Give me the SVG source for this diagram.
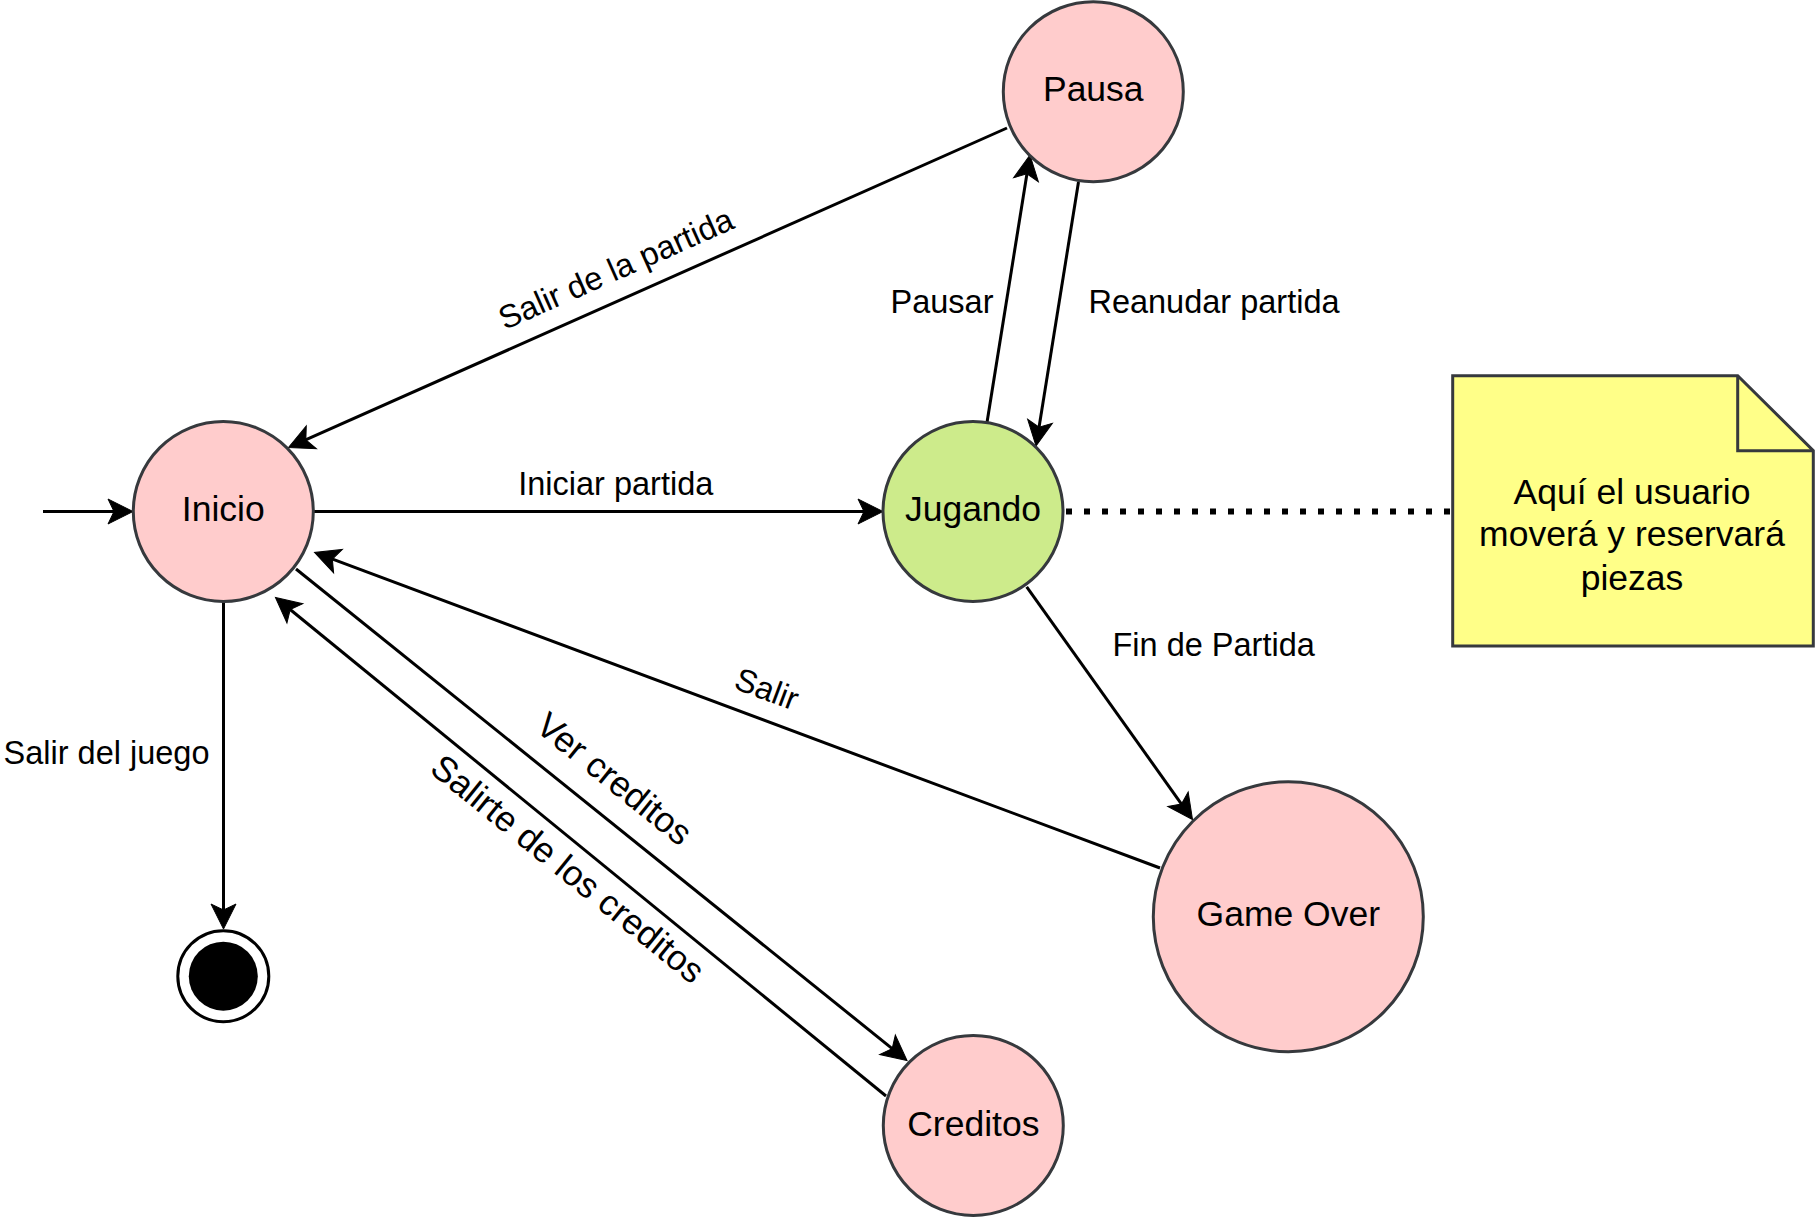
<svg xmlns="http://www.w3.org/2000/svg" width="1815" height="1218" viewBox="0 0 1815 1218">
<style>
.st{fill:#ffcccc;stroke:#36393d;stroke-width:3}
.nt{font-family:"Liberation Sans",Arial,sans-serif;font-size:35.5px;fill:#000;text-anchor:middle}
.et{font-family:"Liberation Sans",Arial,sans-serif;font-size:32.5px;fill:#000;text-anchor:middle}
.el{font-family:"Liberation Sans",Arial,sans-serif;font-size:35.5px;fill:#000;text-anchor:middle}
.ed{fill:none;stroke:#000;stroke-width:3;marker-end:url(#arr)}
</style>
<defs>
<marker id="arr" markerUnits="userSpaceOnUse" viewBox="-27 -15 30 30" markerWidth="30" markerHeight="30" refX="-15" refY="0" orient="auto" overflow="visible">
<path d="M0,0 L-25,-12.5 L-19,0 L-25,12.5 Z" fill="#000" stroke="#000" stroke-width="1"/>
</marker>
</defs>
<rect width="1815" height="1218" fill="#fff"/>
<g id="connectors">
<path class="ed" d="M43,511.5 L118,511.5"/>
<path class="ed" d="M313.5,511.5 L868,511.5"/>
<path class="ed" d="M987,422.5 L1027.6,169.8"/>
<path class="ed" d="M1078.5,182 L1038.4,431.2"/>
<path class="ed" d="M1007,128 L302.2,441.4"/>
<path class="ed" d="M1026.7,586.8 L1183.8,807.3"/>
<path class="ed" d="M1160,868 L328.6,557.7"/>
<path class="ed" d="M296,569 L895.3,1051.1"/>
<path class="ed" d="M886,1096 L287.1,607"/>
<path class="ed" d="M223.5,601.5 L223.5,914"/>
<path d="M1066,511.5 L1452,511.5" fill="none" stroke="#000" stroke-width="6" stroke-dasharray="6 12"/>
<text class="et" x="615.8" y="495">Iniciar partida</text>
<text class="et" x="942" y="313">Pausar</text>
<text class="et" x="1214" y="313">Reanudar partida</text>
<text class="et" x="1213.7" y="656">Fin de Partida</text>
<text class="et" x="106.5" y="764">Salir del juego</text>
<text class="et" transform="translate(616.7,270.7) rotate(-23.9)" x="0" y="9">Salir de la partida</text>
<text class="et" transform="translate(766,691) rotate(20.5)" x="0" y="9">Salir</text>
<text class="el" transform="translate(613,780.5) rotate(38.8)" x="0" y="10">Ver creditos</text>
<text class="el" transform="translate(566.5,870.5) rotate(39)" x="0" y="10">Salirte de los creditos</text>
</g>
<g id="inicio">
<circle class="st" cx="223.3" cy="511.5" r="90"/>
<text class="nt" x="223.3" y="521">Inicio</text>
</g>
<g id="jugando">
<circle cx="973" cy="511.5" r="90" fill="#cdeb8b" stroke="#36393d" stroke-width="3"/>
<text class="nt" x="973" y="521">Jugando</text>
</g>
<g id="pausa">
<circle class="st" cx="1093.3" cy="91.7" r="90"/>
<text class="nt" x="1093.3" y="101">Pausa</text>
</g>
<g id="gameover">
<circle class="st" cx="1288.3" cy="916.7" r="135"/>
<text class="nt" x="1288.3" y="926">Game Over</text>
</g>
<g id="creditos">
<circle class="st" cx="973.3" cy="1125.5" r="90"/>
<text class="nt" x="973.3" y="1135.5">Creditos</text>
</g>
<g id="final">
<circle cx="223.3" cy="976.2" r="45.5" fill="#fff" stroke="#000" stroke-width="3"/>
<circle cx="223.3" cy="976.2" r="34.5" fill="#000"/>
</g>
<g id="nota">
<path d="M1452.7,375.7 L1737.7,375.7 L1813.3,450.7 L1813.3,646 L1452.7,646 Z" fill="#ffff88" stroke="#36393d" stroke-width="3"/>
<path d="M1737.7,375.7 L1737.7,450.7 L1813.3,450.7" fill="none" stroke="#36393d" stroke-width="3"/>
<text class="nt" x="1632" y="504">Aquí el usuario</text>
<text class="nt" x="1632" y="546">moverá y reservará</text>
<text class="nt" x="1632" y="590">piezas</text>
</g>
</svg>
